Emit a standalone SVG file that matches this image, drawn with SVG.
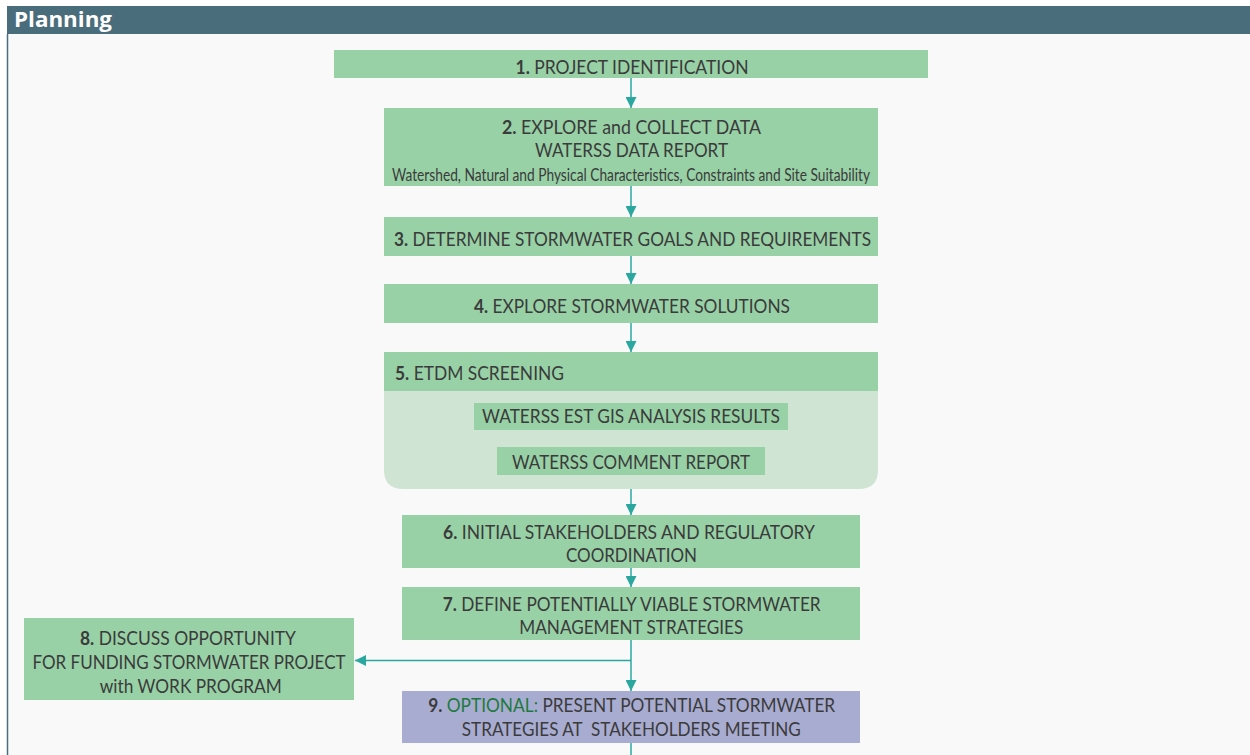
<svg xmlns="http://www.w3.org/2000/svg" width="1250" height="755" viewBox="0 0 1250 755">
  <defs>
    <style>
      .box { fill: #98d1a6; }
      .box-opt { fill: #a8acd1; }
      .sub { fill: #d0e4d4; }
      .t { font-family: Lato, "Noto Sans", sans-serif; font-size: 19px; fill: #3b3b3b; text-anchor: middle; }
      .ts { font-family: Lato, "Noto Sans", sans-serif; font-size: 16.5px; fill: #3b3b3b; text-anchor: middle; }
      .n { font-weight: 700; }
      .opt { fill: #1e7a3c; }
      .conn { stroke: #2aa8a0; stroke-width: 1.5; fill: none; }
    </style>
    <marker id="arrow" viewBox="0 0 10 10" refX="10" refY="5" markerWidth="11" markerHeight="11" markerUnits="userSpaceOnUse" orient="auto">
      <path d="M0,0 L10,5 L0,10 z" fill="#2aa8a0"/>
    </marker>
  </defs>

  <!-- page background and panel -->
  <rect x="0" y="0" width="1250" height="755" fill="#ffffff"/>
  <rect x="7" y="34" width="1243" height="721" fill="#f9f9f9"/>
  <line x1="7.5" y1="34" x2="7.5" y2="755" stroke="#4a6d7c" stroke-width="1.5"/>

  <!-- panel header -->
  <g id="header">
    <rect x="7" y="6" width="1243" height="28" fill="#4a6d7c"/>
    <text x="14" y="27" font-family="Open Sans, Noto Sans, sans-serif" font-size="21" font-weight="700" fill="#ffffff" textLength="98" lengthAdjust="spacingAndGlyphs">Planning</text>
  </g>

  <!-- connectors -->
  <g id="connectors">
    <line class="conn" x1="631" y1="78" x2="631" y2="108" marker-end="url(#arrow)"/>
    <line class="conn" x1="631" y1="186" x2="631" y2="217" marker-end="url(#arrow)"/>
    <line class="conn" x1="631" y1="256" x2="631" y2="284" marker-end="url(#arrow)"/>
    <line class="conn" x1="631" y1="323" x2="631" y2="352" marker-end="url(#arrow)"/>
    <line class="conn" x1="631" y1="489" x2="631" y2="515" marker-end="url(#arrow)"/>
    <line class="conn" x1="631" y1="568" x2="631" y2="587" marker-end="url(#arrow)"/>
    <line class="conn" x1="631" y1="640" x2="631" y2="691" marker-end="url(#arrow)"/>
    <line class="conn" x1="631" y1="660.5" x2="355" y2="660.5" marker-end="url(#arrow)"/>
    <line class="conn" x1="631" y1="743" x2="631" y2="755"/>
  </g>

  <g id="step1">
    <rect class="box" x="334" y="50" width="594" height="28"/>
    <text class="t" x="632" y="73.5" textLength="233" lengthAdjust="spacingAndGlyphs"><tspan class="n">1.</tspan> PROJECT IDENTIFICATION</text>
  </g>

  <g id="step2">
    <rect class="box" x="384" y="108" width="494" height="78"/>
    <text class="t" x="631.5" y="134" textLength="259" lengthAdjust="spacingAndGlyphs"><tspan class="n">2.</tspan> EXPLORE and COLLECT DATA</text>
    <text class="t" x="631.5" y="157" textLength="193" lengthAdjust="spacingAndGlyphs">WATERSS DATA REPORT</text>
    <text class="ts" x="631" y="180.5" textLength="478" lengthAdjust="spacingAndGlyphs">Watershed, Natural and Physical Characteristics, Constraints and Site Suitability</text>
  </g>

  <g id="step3">
    <rect class="box" x="384" y="217" width="494" height="39"/>
    <text class="t" x="632.5" y="245.5" textLength="477" lengthAdjust="spacingAndGlyphs"><tspan class="n">3.</tspan> DETERMINE STORMWATER GOALS AND REQUIREMENTS</text>
  </g>

  <g id="step4">
    <rect class="box" x="384" y="284" width="494" height="39"/>
    <text class="t" x="632" y="312.5" textLength="316" lengthAdjust="spacingAndGlyphs"><tspan class="n">4.</tspan> EXPLORE STORMWATER SOLUTIONS</text>
  </g>

  <g id="step5">
    <path class="sub" d="M384,352 H878 V470 Q878,489 859,489 H403 Q384,489 384,470 Z"/>
    <rect class="box" x="384" y="352" width="494" height="39"/>
    <text class="t" x="395" y="380" style="text-anchor:start" textLength="169" lengthAdjust="spacingAndGlyphs"><tspan class="n">5.</tspan> ETDM SCREENING</text>
    <rect class="box" x="474" y="403" width="314" height="27"/>
    <text class="t" x="631" y="422.5" textLength="298" lengthAdjust="spacingAndGlyphs">WATERSS EST GIS ANALYSIS RESULTS</text>
    <rect class="box" x="497" y="447" width="268" height="28"/>
    <text class="t" x="631" y="468.5" textLength="238" lengthAdjust="spacingAndGlyphs">WATERSS COMMENT REPORT</text>
  </g>

  <g id="step6">
    <rect class="box" x="402" y="515" width="458" height="53"/>
    <text class="t" x="629" y="539" textLength="372" lengthAdjust="spacingAndGlyphs"><tspan class="n">6.</tspan> INITIAL STAKEHOLDERS AND REGULATORY</text>
    <text class="t" x="631.5" y="562" textLength="131" lengthAdjust="spacingAndGlyphs">COORDINATION</text>
  </g>

  <g id="step7">
    <rect class="box" x="402" y="587" width="458" height="53"/>
    <text class="t" x="631.7" y="610.5" textLength="378" lengthAdjust="spacingAndGlyphs"><tspan class="n">7.</tspan> DEFINE POTENTIALLY VIABLE STORMWATER</text>
    <text class="t" x="631.3" y="633.5" textLength="224" lengthAdjust="spacingAndGlyphs">MANAGEMENT STRATEGIES</text>
  </g>

  <g id="step8">
    <rect class="box" x="24" y="618" width="330" height="82"/>
    <text class="t" x="188" y="645" textLength="216" lengthAdjust="spacingAndGlyphs"><tspan class="n">8.</tspan> DISCUSS OPPORTUNITY</text>
    <text class="t" x="189" y="669" textLength="313" lengthAdjust="spacingAndGlyphs">FOR FUNDING STORMWATER PROJECT</text>
    <text class="t" x="190.8" y="692.5" textLength="182" lengthAdjust="spacingAndGlyphs">with WORK PROGRAM</text>
  </g>

  <g id="step9">
    <rect class="box-opt" x="402" y="691" width="458" height="52"/>
    <text class="t" x="631.7" y="711.5" textLength="407" lengthAdjust="spacingAndGlyphs"><tspan class="n">9.</tspan> <tspan class="opt">OPTIONAL:</tspan> PRESENT POTENTIAL STORMWATER</text>
    <text class="t" x="631.3" y="735.5" xml:space="preserve" textLength="339" lengthAdjust="spacingAndGlyphs">STRATEGIES AT  STAKEHOLDERS MEETING</text>
  </g>
</svg>
